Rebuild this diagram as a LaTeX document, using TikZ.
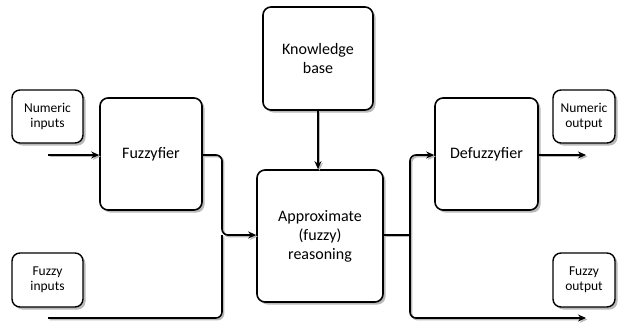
\documentclass[tikz,border=0pt]{standalone}
\usepackage{fontspec}
\setmainfont{Carlito}
\usetikzlibrary{shadows,arrows.meta}
\begin{document}
\begin{tikzpicture}[x=1pt,y=-1pt,
  box/.style={draw=black, line width=1.6pt, rounded corners=8pt, fill=white, align=center,
    inner sep=0pt, drop shadow={shadow xshift=2.5pt, shadow yshift=-2.5pt, fill=gray!55, opacity=1}},
  bigbox/.style={box, font=\fontsize{16}{19}\selectfont},
  smallbox/.style={box, font=\fontsize{13.5}{15.5}\selectfont, line width=1.4pt},
  conn/.style={line width=1.6pt, rounded corners=6pt,
    preaction={draw=gray!55, line width=1.8pt, transform canvas={shift={(1.5pt,-1.5pt)}}}},
  arr/.style={conn, -{Stealth[length=8pt,width=7pt]}}]
\useasboundingbox (0,0) rectangle (619,325);
\node[smallbox, minimum width=71pt, minimum height=53pt] (numin) at (47.5,116.5) {Numeric\\inputs};
\node[smallbox, minimum width=71pt, minimum height=54pt] (fin) at (47.5,280) {Fuzzy\\inputs};
\node[bigbox, minimum width=102pt, minimum height=112pt] (fuzz) at (151,154) {Fuzzyfier};
\node[bigbox, minimum width=110pt, minimum height=103pt] (kb) at (318,58.5) {Knowledge\\base};
\node[bigbox, minimum width=126pt, minimum height=132pt] (appr) at (320,236) {Approximate\\(fuzzy)\\reasoning};
\node[bigbox, minimum width=103pt, minimum height=112pt] (defz) at (486.5,154) {Defuzzyfier};
\node[smallbox, minimum width=62pt, minimum height=53pt] (nout) at (584,116.5) {Numeric\\output};
\node[smallbox, minimum width=62pt, minimum height=54pt] (fout) at (584,280) {Fuzzy\\output};
\coordinate (nin) at (48,155);
\coordinate (fzin) at (48,318);
\coordinate (j1) at (222,235);
\coordinate (j2) at (410,235);
\coordinate (nend) at (586,155);
\coordinate (fend) at (586,318);
\draw[arr] (nin) -- (fuzz.west |- nin);
\draw[arr] (fuzz.east |- nin) -| (j1) -- (appr.west |- j1);
\draw[conn] (fzin) -| (j1);
\draw[arr] (kb.south) -- (kb.south |- appr.north);
\draw[conn] (appr.east |- j2) -- (j2);
\draw[arr] (j2) |- (defz.west |- nin);
\draw[arr] (j2) |- (fend);
\draw[arr] (defz.east |- nin) -- (nend);
\end{tikzpicture}
\end{document}
